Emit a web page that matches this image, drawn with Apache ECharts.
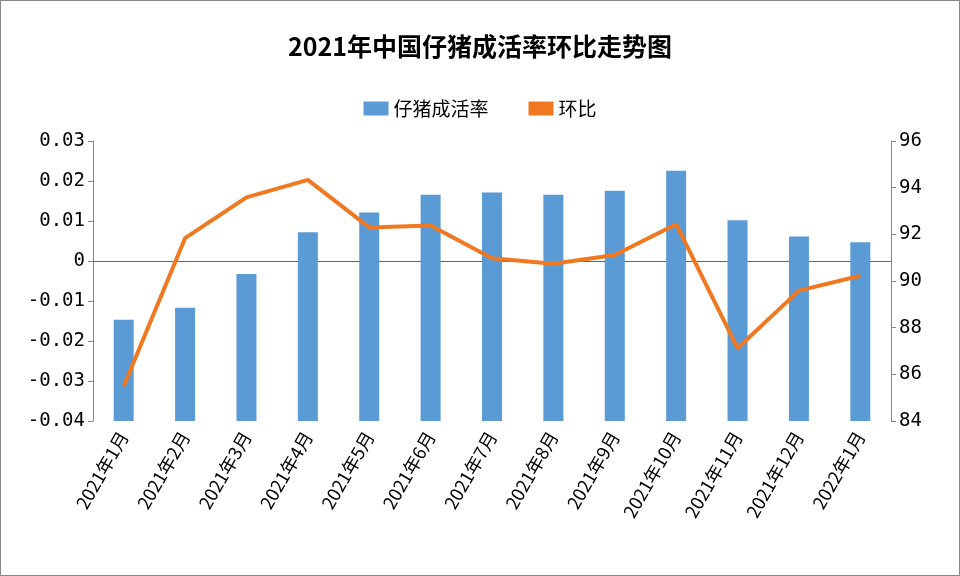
<!DOCTYPE html><html><head><meta charset="utf-8"><script src="https://cdn.jsdelivr.net/npm/echarts@6/dist/echarts.min.js"></script>
<style>body{margin:0}#c{width:958px;height:574px;border:1px solid #888}</style></head><body><div id="c"></div><script>
const categories=['2021年1月','2021年2月','2021年3月','2021年4月','2021年5月','2021年6月','2021年7月','2021年8月','2021年9月','2021年10月','2021年11月','2021年12月','2022年1月'];
const survivalRate=[88.34,88.85,90.3,92.09,92.94,93.7,93.79,93.7,93.87,94.72,92.6,91.91,91.66];
const momChange=[-0.0313,0.0057,0.0159,0.0203,0.0084,0.0089,0.0007,-0.0007,0.0015,0.0092,-0.0218,-0.0074,-0.0037];
const f='"Noto Sans CJK SC", sans-serif';
const c=echarts.init(document.getElementById('c'));
c.setOption({
title:{text:'2021年中国仔猪成活率环比走势图',left:'center',top:28,textStyle:{fontFamily:f,fontSize:25,fontWeight:'bold',color:'#000'}},
legend:{top:93,left:'center',itemGap:40,textStyle:{fontFamily:f,fontSize:19,color:'#000'},data:[{name:'仔猪成活率',icon:'rect',itemWidth:60,itemHeight:12},{name:'环比',icon:'rect',itemWidth:50,itemHeight:4}]},
grid:{left:92,right:68,top:140,bottom:154},
xAxis:{type:'category',data:categories,axisTick:{show:false},axisLine:{onZero:true,lineStyle:{color:'#666'}},
axisLabel:{rotate:60,fontFamily:f,fontSize:18,color:'#000',interval:0,margin:12}},
yAxis:[{type:'value',min:-0.04,max:0.03,interval:0.01,splitLine:{show:false},axisLine:{show:true,lineStyle:{color:'#888'}},axisTick:{show:true},
axisLabel:{fontFamily:'DejaVu Sans Mono',fontSize:19,color:'#000',formatter:v=>{const r=Math.round(v*100)/100;return r===0?'0':r.toFixed(2)}}},
{type:'value',min:84,max:96,interval:2,splitLine:{show:false},axisLine:{show:true,lineStyle:{color:'#888'}},axisTick:{show:true},
axisLabel:{fontFamily:'DejaVu Sans Mono',fontSize:19,color:'#000'}}],
series:[{name:'仔猪成活率',type:'bar',yAxisIndex:1,data:survivalRate,barWidth:20,itemStyle:{color:'#5b9bd5'}},
{name:'环比',type:'line',yAxisIndex:0,data:momChange,symbol:'none',lineStyle:{color:'#f07821',width:4},itemStyle:{color:'#f07821'}}]
});
</script></body></html>
